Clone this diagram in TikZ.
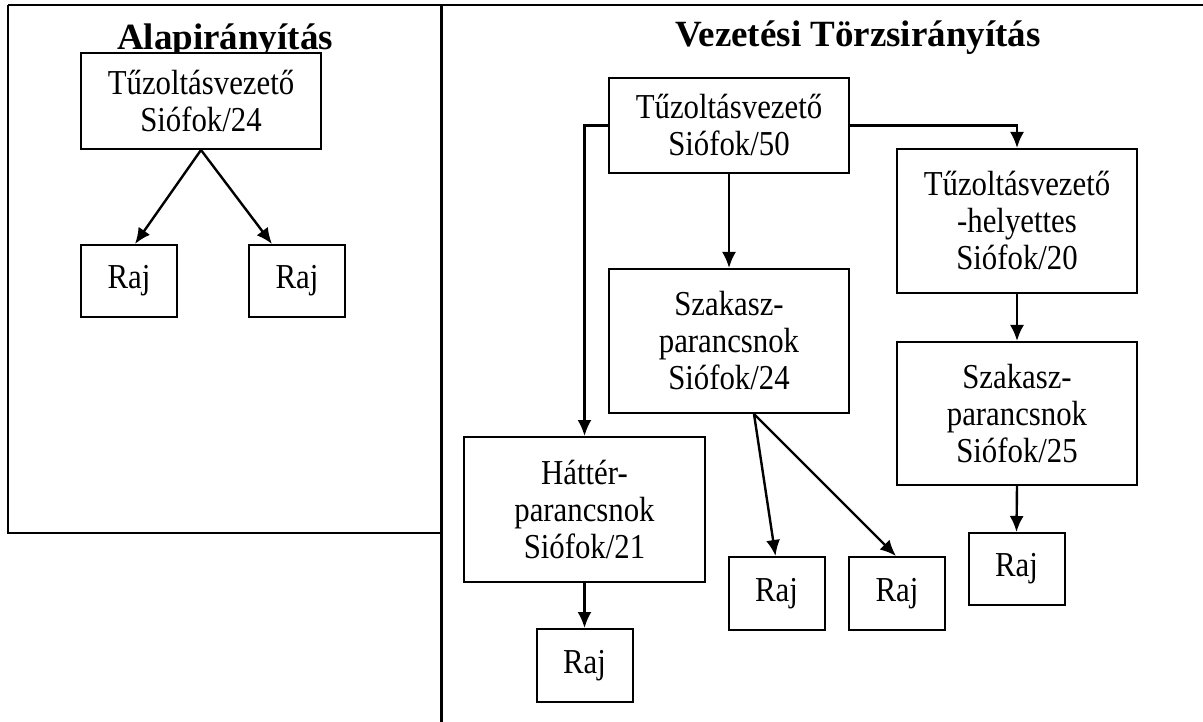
\documentclass[tikz,border=0pt]{standalone}
\usepackage{fontspec}
\setmainfont{Liberation Serif}
\newfontfamily\condfont[FakeStretch=0.88]{Liberation Serif}
\usetikzlibrary{arrows.meta,calc}
\begin{document}
\begin{tikzpicture}[x=1pt,y=-1pt,
  box/.style={draw,line width=2pt,fill=white,inner sep=0pt,align=center,
    font=\condfont\fontsize{35}{37}\selectfont},
  big/.style={box,minimum width=240,minimum height=144},
  raj/.style={box,minimum width=96,minimum height=72},
  ttl/.style={font=\fontsize{37}{44}\selectfont\bfseries,anchor=base,inner sep=0pt},
  frame/.style={line width=2pt},
  conn/.style={line width=2.4pt,-{Latex[length=16pt,width=14pt]}}]
\useasboundingbox (0,0) rectangle (1203,722);
% frames
\draw[frame] (8,5) -- (1203,5);
\draw[frame] (8,5) -- (8,533) -- (441,533);
\draw[line width=3pt] (441,5) -- (441,722);
% titles
\node[ttl] (t1) at (225,50) {Alapirányítás};
\node[ttl] (t2) at (858,47) {Vezetési Törzsirányítás};
% left panel
\node[box,minimum width=240,minimum height=96] (a) at (201,101) {Tűzoltásvezető\\Siófok/24};
\node[raj] (rl1) at (129,281) {Raj};
\node[raj] (rl2) at (297,281) {Raj};
\draw[conn] (a.south) -- ($(rl1.north)+(6,0)$);
\draw[conn] (a.south) -- ($(rl2.north)+(-25,0)$);
% right panel
\node[box,minimum width=240,minimum height=95] (t50) at (729,125.5) {Tűzoltásvezető\\Siófok/50};
\node[big] (th) at (1017,221) {Tűzoltásvezető\\-helyettes\\Siófok/20};
\node[big] (sz24) at (729,341) {Szakasz-\\parancsnok\\Siófok/24};
\node[big,minimum height=143] (sz25) at (1017,413.5) {Szakasz-\\parancsnok\\Siófok/25};
\node[big,minimum width=241,minimum height=145] (hat) at (584.5,509.5) {Háttér-\\parancsnok\\Siófok/21};
\node[raj,minimum height=73] (r1) at (584.5,665.5) {Raj};
\node[raj,minimum height=73] (r2) at (776.5,593.5) {Raj};
\node[raj,minimum height=73] (r3) at (897,593.5) {Raj};
\node[raj] (r4) at (1016.5,569) {Raj};
\coordinate (s24) at ($(sz24.south)+(25,0)$);
\draw[conn] (t50.west) -| (hat.north);
\draw[conn] (t50.east) -| (th.north);
\draw[conn] (t50.south) -- (sz24.north);
\draw[conn] (th.south) -- (sz25.north);
\draw[conn] (sz25.south) -- (r4.north);
\draw[conn] (hat.south) -- (r1.north);
\draw[conn] (s24) -- ($(r2.north)+(-1,0)$);
\draw[conn] (s24) -- ($(r3.north)+(-1,0)$);
\end{tikzpicture}
\end{document}
